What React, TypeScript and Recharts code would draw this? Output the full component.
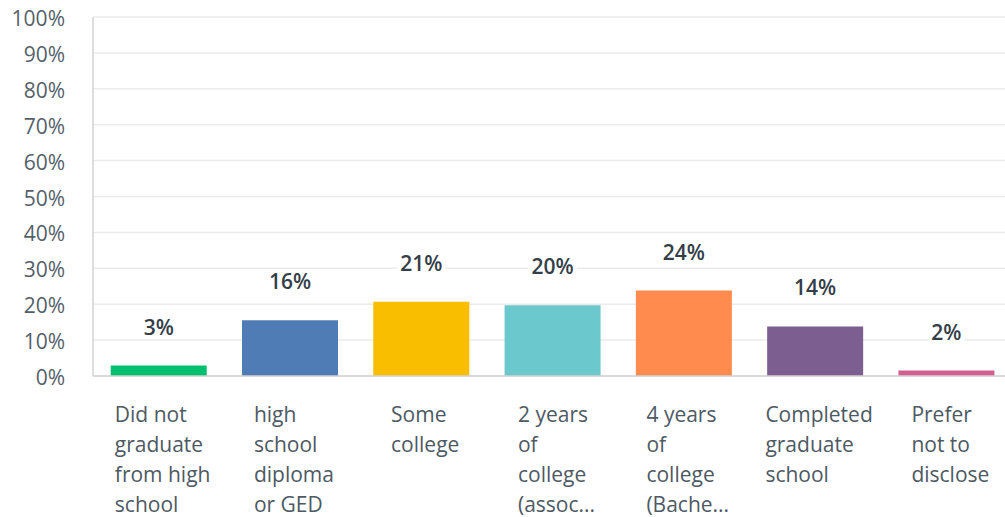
import React from 'react';
import { BarChart, Bar, XAxis, YAxis, CartesianGrid, LabelList, Cell } from 'recharts';

const categories = [
  'Did not\ngraduate\nfrom high\nschool',
  'high\nschool\ndiploma\nor GED',
  'Some\ncollege',
  '2 years\nof\ncollege\n(assoc...',
  '4 years\nof\ncollege\n(Bache...',
  'Completed\ngraduate\nschool',
  'Prefer\nnot to\ndisclose',
];
const values = [2.9, 15.5, 20.7, 19.7, 23.8, 13.8, 1.5];
const valueLabels = ['3%', '16%', '21%', '20%', '24%', '14%', '2%'];
const colors = ['#00bf6f', '#507cb6', '#f9be00', '#6bc8cd', '#ff8b4f', '#7d5e90', '#d25f90'];
const yTicks = [0, 10, 20, 30, 40, 50, 60, 70, 80, 90, 100];

const data = categories.map((name, i) => ({ name, value: values[i], label: valueLabels[i] }));

const FAMILY = "'Open Sans', sans-serif";
const FONT_SIZE = 21;

let ctx: CanvasRenderingContext2D | null = null;
function measure(t: string, font: string): number {
  if (!ctx) ctx = document.createElement('canvas').getContext('2d');
  if (!ctx) return t.length * 11;
  ctx.font = font;
  return ctx.measureText(t).width;
}

const XTick = (props: any) => {
  const { x, y, payload } = props;
  const lines = String(payload.value).split('\n');
  const maxW = Math.max(...lines.map((l) => measure(l, `${FONT_SIZE}px ${FAMILY}`)));
  const left = x + 4 - maxW / 2;
  return (
    <text x={left} y={y + 46} fill="#4d5963" fontSize={FONT_SIZE} fontFamily={FAMILY}>
      {lines.map((l, i) => (
        <tspan key={i} x={left} dy={i === 0 ? 0 : 30}>
          {l}
        </tspan>
      ))}
    </text>
  );
};

const YTick = (props: any) => {
  const { x, y, payload } = props;
  return (
    <text x={x} y={y + 1} textAnchor="end" dominantBaseline="central" fill="#555f69" fontSize={FONT_SIZE} fontFamily={FAMILY}>
      {`${payload.value}%`}
    </text>
  );
};

const ValueLabel = (props: any) => {
  const vb = props.viewBox || props;
  const x = vb.x ?? props.x;
  const y = vb.y ?? props.y;
  const width = vb.width ?? props.width;
  const text = String(props.value);
  const cx = x + width / 2;
  const cy = y - 39;
  const w = measure(text, `600 ${FONT_SIZE}px ${FAMILY}`) + 6;
  return (
    <g>
      <rect x={cx - w / 2} y={cy - 12} width={w} height={24} fill="#ffffff" />
      <text x={cx} y={cy} textAnchor="middle" dominantBaseline="central" fill="#333e48" fontSize={FONT_SIZE} fontWeight={600} fontFamily={FAMILY}>
        {text}
      </text>
    </g>
  );
};

export default function App() {
  return (
    <div style={{ position: 'fixed', left: 0, top: 0, width: 1005, height: 517, overflow: 'hidden', background: '#ffffff' }}>
      <BarChart
        width={1030}
        height={517}
        data={data}
        margin={{ top: 17, right: 18, left: 0, bottom: 0 }}
        barCategoryGap="13.5%"
      >
        <CartesianGrid vertical={false} stroke="#ebebeb" strokeWidth={1.5} />
        <XAxis
          dataKey="name"
          interval={0}
          tickLine={false}
          tickSize={0}
          tickMargin={0}
          height={141}
          axisLine={{ stroke: '#d3d3d3', strokeWidth: 1.5 }}
          tick={<XTick />}
        />
        <YAxis
          domain={[0, 100]}
          ticks={yTicks}
          interval={0}
          width={93}
          tickLine={false}
          tickSize={0}
          tickMargin={28}
          axisLine={{ stroke: '#d3d3d3', strokeWidth: 1.5 }}
          tick={<YTick />}
        />
        <Bar dataKey="value" isAnimationActive={false}>
          {data.map((d, i) => (
            <Cell key={i} fill={colors[i]} />
          ))}
          <LabelList dataKey="label" content={<ValueLabel />} />
        </Bar>
      </BarChart>
    </div>
  );
}
